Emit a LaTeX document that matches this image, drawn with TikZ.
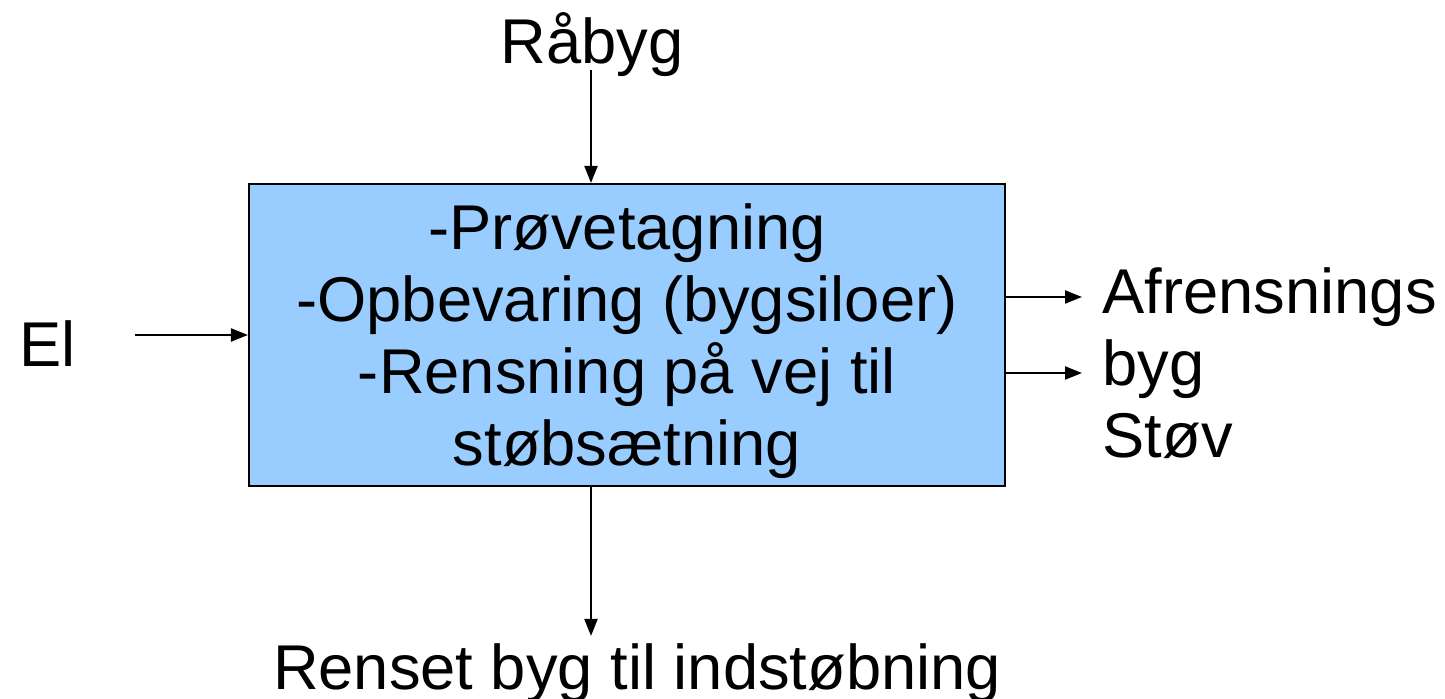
\documentclass[tikz,border=0pt]{standalone}
\usepackage{fontspec}
\setmainfont{Liberation Sans}
\usetikzlibrary{arrows.meta}
\definecolor{boxblue}{RGB}{153,204,255}

\begin{document}
\begin{tikzpicture}[
    arr/.style={-{Triangle[length=0.17cm,width=0.13cm]}, line width=0.6pt},
    lbl/.style={font=\fontsize{18}{20.5}\selectfont, inner sep=0pt}]
        \useasboundingbox (0,0) rectangle (14.45,6.99);
        % process box
        \node[draw, fill=boxblue, line width=0.6pt, minimum width=7.56cm, minimum height=3.02cm, inner sep=0pt] (box) at (6.27,3.64) {};
        \node[lbl, align=center] (boxtxt) at (6.27,3.58)
            {-Prøvetagning\\-Opbevaring (bygsiloer)\\-Rensning på vej til\\støbsætning};
        % labels
        \node[lbl, anchor=base] (raabyg) at (5.92,6.35) {Råbyg};
        \node[lbl, anchor=base west] (el) at (0.19,3.32) {El};
        \node[lbl, anchor=north west, align=left] (ud) at (11.02,4.32) {Afrensnings\\byg\\Støv};
        \node[lbl, anchor=base] (renset) at (6.37,0.09) {Renset byg til indstøbning};
        % free ends
        \coordinate (topin) at (5.91,6.29);
        \coordinate (elin) at (1.35,3.64);
        \coordinate (out1) at (10.82,4.02);
        \coordinate (out2) at (10.82,3.26);
        \coordinate (botout) at (5.91,0.63);
        % arrows
        \draw[arr] (topin) -- (topin |- box.north);
        \draw[arr] (elin) -- (box.west);
        \draw[arr] (box.east |- out1) -- (out1);
        \draw[arr] (box.east |- out2) -- (out2);
        \draw[arr] (botout |- box.south) -- (botout);
    \end{tikzpicture}
\end{document}
